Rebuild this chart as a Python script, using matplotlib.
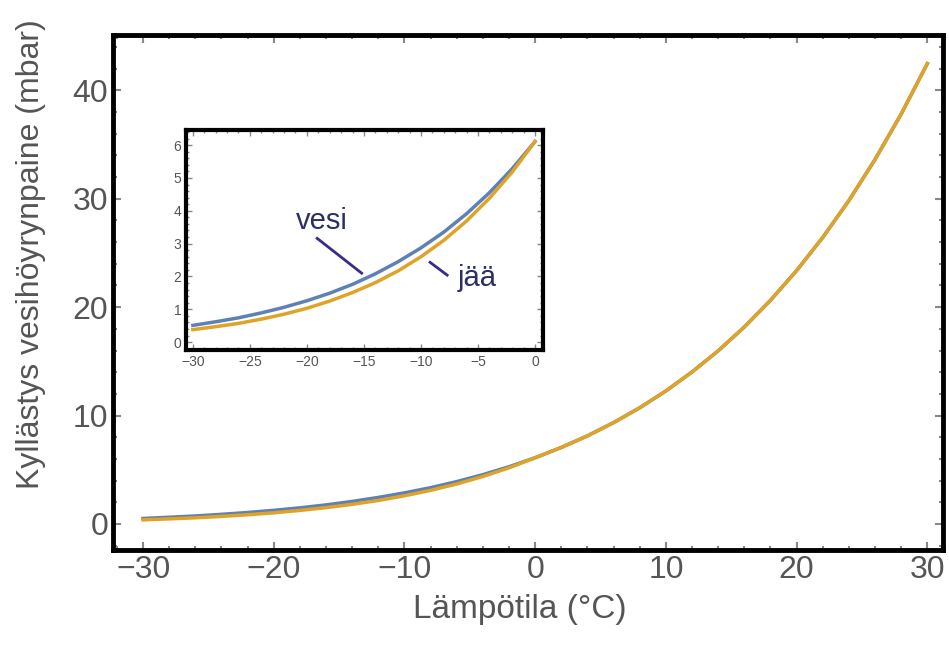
import matplotlib.pyplot as plt

# Temperature (°C) and saturation vapour pressure (mbar)
temp = [-30, -28, -26, -24, -22, -20, -18, -16, -14, -12, -10, -8, -6, -4, -2, 0,
        2, 4, 6, 8, 10, 12, 14, 16, 18, 20, 22, 24, 26, 28, 30]
vesi = [0.51, 0.62, 0.74, 0.89, 1.06, 1.26, 1.49, 1.76, 2.08, 2.45, 2.87, 3.35, 3.91, 4.55, 5.28, 6.11,
        7.06, 8.13, 9.35, 10.72, 12.27, 14.02, 15.97, 18.17, 20.63, 23.37, 26.43, 29.83, 33.62, 37.81, 42.46]
temp_ice = [-30, -28, -26, -24, -22, -20, -18, -16, -14, -12, -10, -8, -6, -4, -2, 0]
jaa = [0.38, 0.47, 0.57, 0.70, 0.85, 1.03, 1.25, 1.51, 1.81, 2.17, 2.60, 3.10, 3.69, 4.38, 5.18, 6.11]

blue = '#5e81b5'
orange = '#e0a326'
gray = '#555555'
plt.rcParams['font.family'] = ['Liberation Sans', 'DejaVu Sans']

fig = plt.figure(figsize=(9.49, 6.52), dpi=100)
ax = fig.add_axes([113 / 949, 1 - 550 / 652, 830 / 949, 515 / 652])

# main plot: water curve and ice curve (above 0 the ice curve follows water)
ax.plot(temp, vesi, color=blue, lw=2.5)
ax.plot(temp_ice + temp[16:], jaa + vesi[16:], color=orange, lw=2.5)
ax.set_xlim(-32.3, 31.2)
ax.set_ylim(-2.4, 45.1)
ax.set_xticks([-30, -20, -10, 0, 10, 20, 30])
ax.set_xticklabels(['\u221230', '\u221220', '\u221210', '0', '10', '20', '30'])
ax.set_yticks([0, 10, 20, 30, 40])
ax.set_xticks(range(-32, 32, 2), minor=True)
ax.set_yticks(range(-2, 46, 2), minor=True)
ax.tick_params(which='both', direction='in', colors='#888888', labelcolor=gray,
               top=True, right=True, labelsize=23, width=1.5)
ax.tick_params(which='major', length=6)
ax.tick_params(which='minor', length=3)
for s in ax.spines.values():
    s.set_linewidth(3.5)
ax.set_xlabel('Lämpötila (°C)', fontsize=24, color=gray)
ax.xaxis.set_label_coords(0.49, -0.086)
ax.set_ylabel('Kyllästys vesihöyrynpaine (mbar)', fontsize=23, color=gray)
ax.yaxis.set_label_coords(-0.081, 0.575)

# inset
ins = fig.add_axes([186 / 949, 1 - 350 / 652, 357 / 949, 220 / 652])
ins.plot(temp_ice, vesi[:16], color=blue, lw=2.5)
ins.plot(temp_ice, jaa, color=orange, lw=2.5)
ins.set_xlim(-30.6, 0.7)
ins.set_ylim(-0.24, 6.46)
ins.set_xticks([-30, -25, -20, -15, -10, -5, 0])
ins.set_xticklabels(['\u221230', '\u221225', '\u221220', '\u221215', '\u221210', '\u22125', '0'])
ins.set_yticks(range(0, 7))
ins.set_xticks([x for x in range(-30, 1)], minor=True)
ins.set_yticks([y / 5 for y in range(0, 33)], minor=True)
ins.tick_params(which='both', direction='in', colors='#888888', labelcolor=gray,
                top=True, right=True, labelsize=10, width=1)
ins.tick_params(which='major', length=4)
ins.tick_params(which='minor', length=2)
for s in ins.spines.values():
    s.set_linewidth(3)

ink = '#2b2f66'
ins.text(-18.7, 3.7, 'vesi', fontsize=21, color=ink, ha='center', va='center')
ins.plot([-19.1, -15.2], [3.16, 2.10], color='#3b2a8c', lw=2)
ins.text(-5.1, 1.95, 'jää', fontsize=21, color=ink, ha='center', va='center')
ins.plot([-9.2, -7.7], [2.43, 2.04], color='#3b2a8c', lw=2)

fig.savefig('out.png', dpi=100)
